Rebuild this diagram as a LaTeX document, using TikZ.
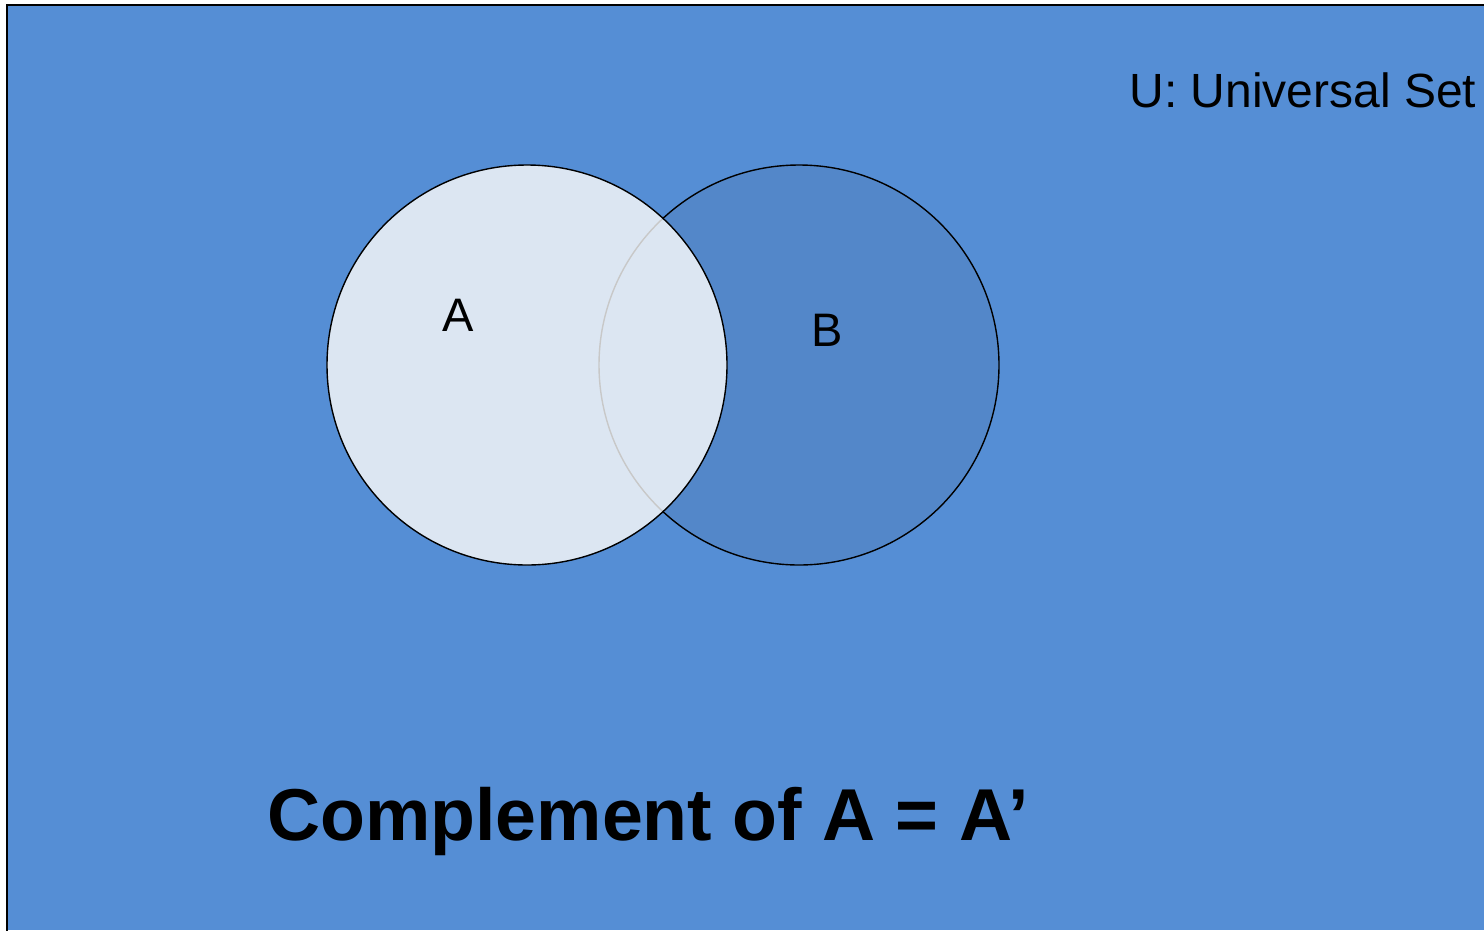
\documentclass[tikz,border=0pt]{standalone}
\usepackage{fontspec}
\setmainfont{Liberation Sans}
\usepackage{xcolor}
\usetikzlibrary{positioning, calc}

\begin{document}
\begin{tikzpicture}[x=1pt, y=-1pt, line width=1.4pt]

%colours
\definecolor{ucolor}{HTML}{558ED5}
\definecolor{acolor}{HTML}{DCE6F2}
\definecolor{bcolor}{HTML}{5387C9}
\definecolor{arccolor}{HTML}{C8C8C8}

\useasboundingbox (0,0) rectangle (1484,930);

%universal set
  \fill[ucolor] (7,5) rectangle (1484,930);
  \coordinate (ubl) at (7,940);
  \coordinate (utl) at (7,5);
  \coordinate (utr) at (1490,5);
  \draw[line width=2.4pt] (ubl) -- (utl) -- (utr);

%circles
  \node[circle, minimum size=400pt, inner sep=0pt, draw, fill=bcolor] (setB) at (799,365) {};
  \node[circle, minimum size=400pt, inner sep=0pt, fill=acolor] (setA) at (527,365) {};
  \begin{scope}
    \clip (setA.center) circle (200pt);
    \draw[arccolor] (setB.center) circle (200pt);
  \end{scope}
  \draw (setA.center) circle (200pt);

%labels
  \node[font=\fontsize{47}{50}\selectfont, anchor=base, inner sep=0pt] (labA) at (458,331) {A};
  \node[font=\fontsize{47}{50}\selectfont, anchor=base, inner sep=0pt] (labB) at (827,346) {B};
  \node[font=\fontsize{48}{50}\selectfont, anchor=base east, inner sep=0pt] (labU) at (1477,107) {U: Universal Set};
  \node[font=\fontsize{73.5}{80}\selectfont\bfseries, anchor=base, inner sep=0pt] (title) at (648,840) {Complement of A = A’};
\end{tikzpicture}
\end{document}
